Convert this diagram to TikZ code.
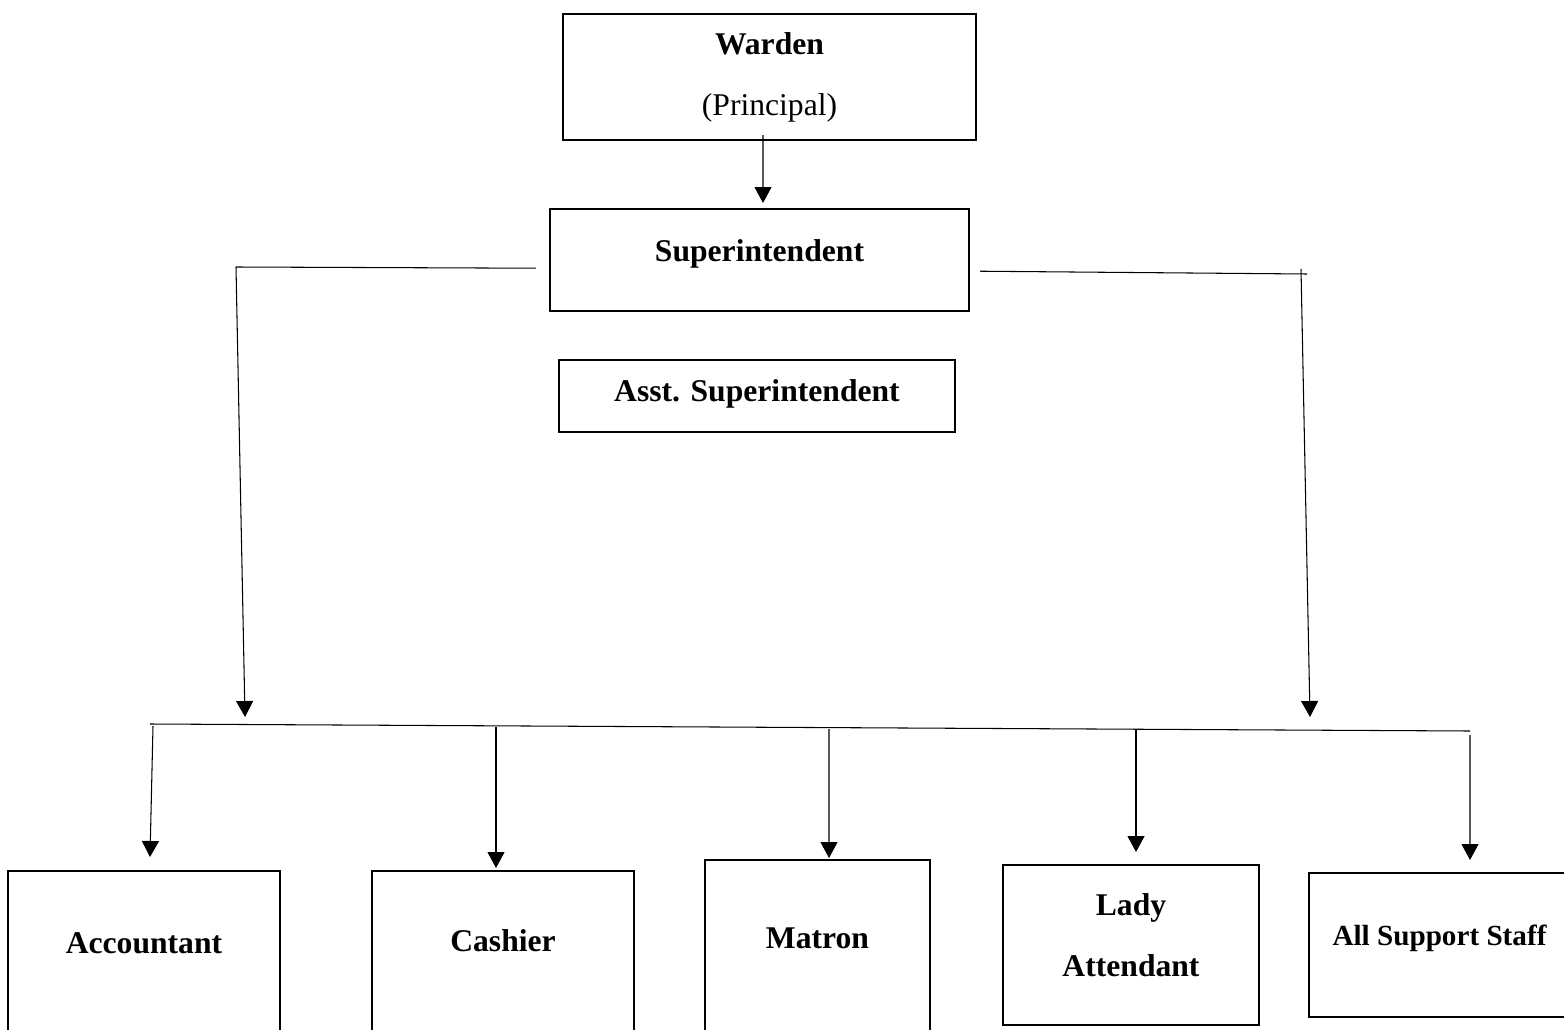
\documentclass[tikz,border=0pt]{standalone}
\usepackage{fontspec}
\setmainfont{Liberation Serif}
\usepackage{tikz}
\usetikzlibrary{positioning, arrows.meta, calc}

\tikzset{
  post/.style={draw, line width=1.4pt, inner sep=0pt, font=\fontsize{18}{34.7}\selectfont\bfseries},
  link/.style={line width=0.6pt},
  arr/.style={line width=0.6pt, -{Triangle[length=0.32cm, width=0.34cm]}}
}

\begin{document}
\begin{tikzpicture}[x=0.02cm, y=-0.02cm]
					\clip (0,0) rectangle (1564,1030);
					\fill[white] (0,0) rectangle (1564,1030);
					\node[post, align=center, minimum width=8.26cm, minimum height=2.52cm, font=\fontsize{18}{34.7}\selectfont] (warden) at (769.5,77) {\textbf{Warden}\\(Principal)};
					\node[post, anchor=north, minimum width=8.38cm, text height=1.04cm, text depth=1cm] (super) at (759.5,208) {Superintendent};
					\node[post, anchor=north, minimum width=7.92cm, text height=0.82cm, text depth=0.62cm] (asst) at (757,359) {Asst. Superintendent};
					\node[post, anchor=north, minimum width=5.44cm, text height=1.64cm, text depth=2.16cm] (acc) at (144,870) {Accountant};
					\node[post, anchor=north, minimum width=5.24cm, text height=1.6cm, text depth=2.2cm] (cash) at (503,870) {Cashier};
					\node[post, anchor=north, minimum width=4.5cm, text height=1.76cm, text depth=2.26cm] (matron) at (817.5,859) {Matron};
					\node[post, align=center, anchor=north, minimum width=5.12cm, text height=2.22cm, text depth=0.98cm] (lady) at (1131,864) {Lady\\Attendant};
					\node[post, anchor=north, minimum width=5.22cm, text height=1.44cm, text depth=1.44cm, font=\fontsize{16.6}{20}\selectfont\bfseries] (staff) at (1439.5,872) {All Support Staff};
					\coordinate (lcorner) at (236,267); \coordinate (lend) at (245,717);
					\coordinate (rcorner) at (1307,274); \coordinate (rend) at (1310,717);
					\coordinate (busl) at (150,724); \coordinate (busr) at (1470,731);
					\coordinate (dacc) at (153,726); \coordinate (dcash) at (496,727);
					\coordinate (dmat) at (829,729); \coordinate (dlady) at (1136,729);
					\coordinate (dstaff) at (1470,735);
					\draw[arr] ($(warden.south)+(-6.5,-6)$) -- ($(super.north)+(3.5,-5)$);
					\draw[link] ($(super.west)+(-13,8)$) -- (lcorner);
					\draw[arr] (lcorner) -- (lend);
					\draw[link] ($(super.east)+(10,11)$) -- (rcorner);
					\draw[arr] ($(rcorner)+(-6,-5)$) -- (rend);
					\draw[link] (busl) -- (busr);
					\draw[arr] (dacc) -- ($(acc.north)+(6,-13)$);
					\draw[arr] (dcash) -- ($(cash.north)+(-7,-2)$);
					\draw[arr] (dmat) -- ($(matron.north)+(11.5,-1)$);
					\draw[arr] (dlady) -- ($(lady.north)+(5,-12)$);
					\draw[arr] (dstaff) -- ($(staff.north)+(30.5,-12)$);
				\end{tikzpicture}
\end{document}
